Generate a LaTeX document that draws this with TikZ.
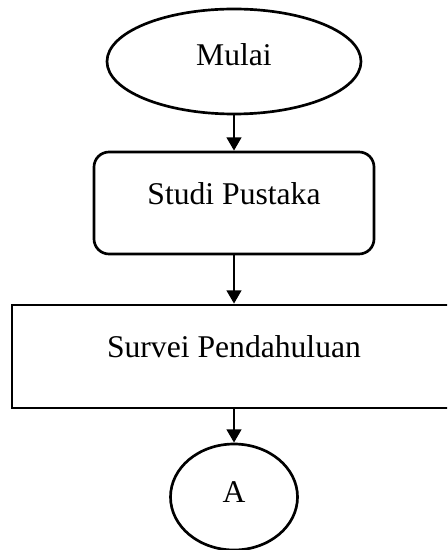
\documentclass[tikz,border=0pt]{standalone}
\usepackage{fontspec}
\setmainfont{Liberation Serif}
\usetikzlibrary{arrows.meta,shapes.geometric}

\begin{document}
\begin{tikzpicture}[
  terminal/.style={draw,ellipse,line width=1.9pt,minimum width=6.35cm,minimum height=2.625cm,inner sep=0pt,text depth=0.325cm,font=\fontsize{22.5}{27}\selectfont},
  process/.style={draw,rectangle,rounded corners=0.375cm,line width=1.9pt,minimum width=7cm,minimum height=2.55cm,inner sep=0pt,text depth=0.45cm,font=\fontsize{22.5}{27}\selectfont},
  wide/.style={draw,rectangle,line width=1.9pt,minimum width=11.1cm,minimum height=2.575cm,inner sep=0pt,text depth=0.475cm,font=\fontsize{22.5}{27}\selectfont},
  connector/.style={draw,ellipse,line width=1.9pt,minimum width=3.175cm,minimum height=2.65cm,inner sep=0pt,text depth=0.25cm,font=\fontsize{22.5}{27}\selectfont},
  arr/.style={-{Triangle[length=0.33cm,width=0.36cm]},line width=1.9pt}
]
\useasboundingbox (0,0) rectangle (11.175,-13.75);
\clip (0,0) rectangle (11.175,-13.75);
\node[terminal] (mulai) at (5.85,-1.5375) {Mulai};
\node[process] (studi) at (5.85,-5.075) {Studi Pustaka};
\node[wide] (survei) at (5.85,-8.9125) {Survei Pendahuluan};
\node[connector] (a) at (5.85,-12.425) {A};

\draw[arr] (mulai) -- (studi);
\draw[arr] (studi) -- (survei);
\draw[arr] (survei) -- (a);
\end{tikzpicture}
\end{document}
